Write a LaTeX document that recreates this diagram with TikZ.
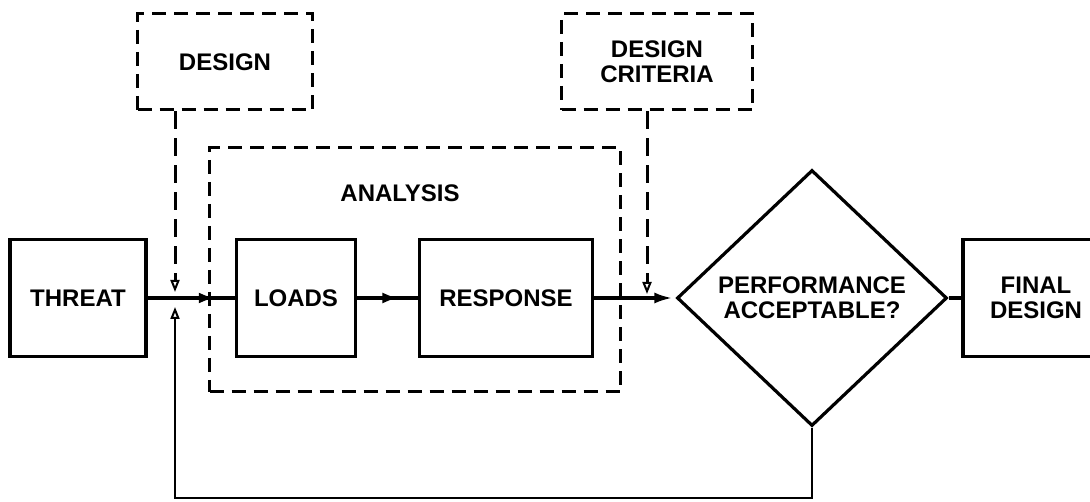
\documentclass[tikz,border=0pt]{standalone}
\usepackage{fontspec}
\setmainfont{Liberation Sans}
\usetikzlibrary{shapes.geometric,arrows.meta,decorations.markings}
\begin{document}
\begin{tikzpicture}[x=1pt,y=-1pt,
  lbl/.style={font=\bfseries\fontsize{24}{25}\selectfont, align=center},
  box/.style={draw, line width=3.2pt, inner sep=0pt, lbl},
  dbox/.style={box, line width=3pt, dash pattern=on 14pt off 8pt},
  conn/.style={line width=3.2pt},
  dconn/.style={line width=3pt, dash pattern=on 18pt off 9pt},
  fill arrow/.style={postaction={decorate}, decoration={markings,
      mark=at position #1 with {\arrow{Latex[length=16pt,width=11pt]}}}},
  open tip/.style={-{Triangle[open,length=12pt,width=9pt,line width=2pt]}}
]
\useasboundingbox (0,0) rectangle (1090,502);

% main boxes
\node[box, minimum width=136pt, minimum height=117pt] (threat) at (78,298) {THREAT};
\node[box, minimum width=119pt, minimum height=117pt] (loads) at (296,298) {LOADS};
\node[box, minimum width=173pt, minimum height=117pt] (response) at (506,298) {RESPONSE};
\node[box, diamond, minimum width=270pt, minimum height=256pt] (perf) at (812,298)
  {PERFORMANCE\\ACCEPTABLE?};
\node[box, minimum width=146pt, minimum height=117pt] (final) at (1036,298) {FINAL\\DESIGN};

% dashed boxes
\node[dbox, minimum width=175pt, minimum height=96pt] (design) at (225,62) {DESIGN};
\node[dbox, minimum width=191pt, minimum height=96pt] (crit) at (657,62) {DESIGN\\CRITERIA};
\node[dbox, minimum width=411pt, minimum height=244pt] (analysis) at (415,270) {};
\node[lbl] (analysislbl) at (400,193) {ANALYSIS};

% junction coordinates
\coordinate (j1) at (175,298);
\coordinate (j2) at (647,298);
\coordinate (fb) at (175,498);

% solid connectors
\draw[conn, fill arrow=0.77] (threat.east) -- (loads.west);
\draw[conn, fill arrow=0.68] (loads.east) -- (response.west);
\draw[conn, -{Latex[length=18pt,width=11pt]}, shorten >=3pt] (response.east) -- (perf.west);
\draw[conn] (perf.east) -- (final.west);

% dashed inputs
\draw[dconn, open tip, shorten >=6pt] (design.south -| j1) -- (j1);
\draw[dconn, open tip, shorten >=4pt] (crit.south -| j2) -- (j2);

% feedback loop
\draw[line width=2.4pt, open tip, shorten >=9pt] (perf.south) |- (fb) -- (j1);
\end{tikzpicture}
\end{document}
